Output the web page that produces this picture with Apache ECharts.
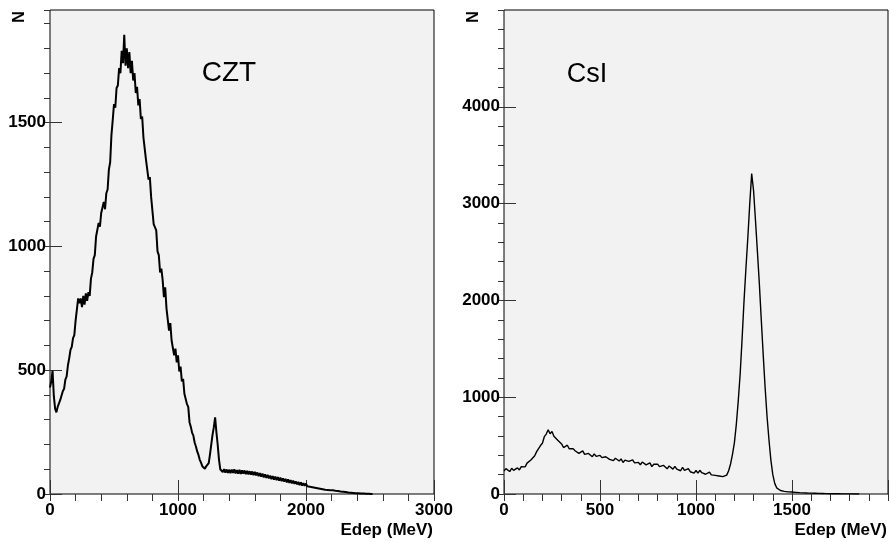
<!DOCTYPE html>
<html>
<head>
<meta charset="utf-8">
<script src="https://cdn.jsdelivr.net/npm/echarts@6/dist/echarts.min.js"></script>
<style>
html,body{margin:0;padding:0;background:#fff;}
#chart{width:889px;height:542px;}
</style>
</head>
<body>
<div id="chart"></div>
<script>
// ---- Data (energy bins, MeV) ----
const cztStep = 10;   // bin width (MeV) of CZT spectrum, first bin at 0
const csiStep = 10;   // bin width (MeV) of CsI spectrum, first bin at 0

const cztCounts = [
 430,455,498,395,345,330,352,350,380,385,
 415,425,462,475,520,548,582,594,630,642,
 700,705,790,770,790,755,800,765,810,780,
 815,800,870,895,950,965,1040,1035,1095,1080,
 1135,1130,1180,1150,1215,1230,1310,1340,1450,1510,
 1575,1560,1640,1650,1720,1700,1790,1740,1855,1730,
 1800,1720,1785,1700,1750,1670,1700,1620,1645,1570,
 1595,1515,1525,1440,1445,1350,1355,1270,1280,1200,
 1205,1090,1095,1065,980,965,895,910,865,795,
 835,750,755,660,690,620,625,560,587,532,
 560,495,515,455,465,405,412,363,352,290,
 272,248,236,208,192,172,158,138,127,112,
 108,102,112,106,125,160,200,240,270,310,
 250,200,140,100,102,88,101,86,99,85,
 98,84,99,85,100,83,97,82,98,81,
 96,82,95,80,94,79,92,78,91,76,
 89,75,87,72,84,70,82,67,79,65,
 77,63,74,60,72,58,70,56,68,54,
 66,52,63,50,61,47,59,45,56,43,
 54,41,51,39,49,36,47,34,44,33,
 42,31,39,29,36,27,33,25,30,23,
 27,21,25,19,23,17,21,16,19,15,
 17,15,15,13,13,12,11,10,10,9,
 8,8,7,6,6,5,5,4,4,3,
 3,3,2,2,2,2,1,1,1,1,
 1,0,0
];

const csiCounts = [
 238,262,250,232,266,244,256,270,249,283,
 288,280,319,316,352,347,395,438,446,501,
 525,592,619,664,622,645,597,600,555,560,
 517,480,495,504,467,448,469,447,459,420,
 427,445,409,393,419,411,385,415,389,377,
 399,376,359,385,395,358,369,345,369,373,
 341,363,325,350,360,337,322,353,321,335,
 327,302,330,335,301,306,322,283,307,293,
 309,282,272,296,285,260,290,280,257,285,
 256,273,240,276,243,254,261,230,247,216,
 243,216,245,220,231,204,218,226,198,210,
 192,208,186,197,180,177,195,240,310,410,
 530,720,960,1240,1600,1990,2330,2650,3000,3310,
 3130,2820,2500,2170,1800,1440,1100,800,560,350,
 200,110,64,45,36,30,27,24,22,20,
 20,18,17,16,14,13,12,11,10,10,
 9,8,8,7,6,6,5,5,4,4,
 3,3,3,2,2,2,1,1,1,1,
 1,0,0,0,0,0
];

// Axis tick values
const cztXTicks = [0, 1000, 2000, 3000];
const cztYTicks = [0, 500, 1000, 1500];
const csiXTicks = [0, 500, 1000, 1500];
const csiYTicks = [0, 1000, 2000, 3000, 4000];

const panelLabels = ['CZT', 'CsI'];
const xTitle = 'Edep (MeV)';
const yTitle = 'N';

// ---- Build chart ----
const FONT = '"Liberation Sans", Arial, Helvetica, sans-serif';
const toPairs = (arr, step) => arr.map((v, i) => [i * step, v]);

function mainX(gi, max, interval, ticks) {
  return {
    gridIndex: gi, type: 'value', min: 0, max: max, interval: interval,
    axisLine: {show: false},
    axisTick: {show: true, inside: true, length: 14, lineStyle: {color: '#333', width: 1}},
    axisLabel: {
      show: true, margin: 8, color: '#000', fontFamily: FONT, fontWeight: 'bold', fontSize: 17,
      formatter: v => (ticks.indexOf(v) >= 0 ? String(v) : '')
    },
    splitLine: {show: false},
    name: xTitle, nameLocation: 'end', nameGap: -1,
    nameTextStyle: {color: '#000', fontFamily: FONT, fontWeight: 'bold', fontSize: 17,
      align: 'right', verticalAlign: 'top', padding: [28, 0, 0, 0]}
  };
}
function minorX(gi, max, interval) {
  return {
    gridIndex: gi, type: 'value', min: 0, max: max, interval: interval,
    axisLine: {show: false},
    axisTick: {show: true, inside: true, length: 7, lineStyle: {color: '#333', width: 1}},
    axisLabel: {show: false}, splitLine: {show: false}
  };
}
function mainY(gi, max, interval, ticks) {
  return {
    gridIndex: gi, type: 'value', min: 0, max: max, interval: interval,
    axisLine: {show: false},
    axisTick: {show: true, inside: true, length: 12, lineStyle: {color: '#333', width: 1}},
    axisLabel: {
      show: true, margin: 4, color: '#000', fontFamily: FONT, fontWeight: 'bold', fontSize: 17,
      showMaxLabel: false,
      formatter: v => (ticks.indexOf(v) >= 0 ? String(v) : '')
    },
    splitLine: {show: false}
  };
}
function minorY(gi, max, interval) {
  return {
    gridIndex: gi, type: 'value', min: 0, max: max, interval: interval,
    axisLine: {show: false},
    axisTick: {show: true, inside: true, length: 6, lineStyle: {color: '#333', width: 1}},
    axisLabel: {show: false}, splitLine: {show: false}
  };
}

const chart = echarts.init(document.getElementById('chart'), null, {renderer: 'canvas'});
chart.setOption({
  animation: false,
  backgroundColor: '#ffffff',
  grid: [
    {left: 50, top: 10, width: 384, height: 484, show: true, backgroundColor: '#f2f2f2',
     borderColor: '#000', borderWidth: 1, containLabel: false, outerBoundsMode: 'none'},
    {left: 504, top: 10, width: 384, height: 484, show: true, backgroundColor: '#f2f2f2',
     borderColor: '#000', borderWidth: 1, containLabel: false, outerBoundsMode: 'none'}
  ],
  xAxis: [
    mainX(0, 3000, 1000, cztXTicks),
    minorX(0, 3000, 200),
    mainX(1, 2000, 500, csiXTicks),
    minorX(1, 2000, 100)
  ],
  yAxis: [
    mainY(0, 1955, 500, cztYTicks),
    minorY(0, 1955, 100),
    mainY(1, 5000, 1000, csiYTicks),
    minorY(1, 5000, 200)
  ],
  series: [
    {type: 'line', name: 'CZT', xAxisIndex: 0, yAxisIndex: 0, data: toPairs(cztCounts, cztStep),
     showSymbol: false, symbol: 'none', lineStyle: {color: '#000', width: 2}, clip: true},
    {type: 'line', name: 'CsI', xAxisIndex: 2, yAxisIndex: 2, data: toPairs(csiCounts, csiStep),
     showSymbol: false, symbol: 'none', lineStyle: {color: '#000', width: 1.4}, clip: true}
  ],
  graphic: [
    {type: 'text', x: 20, y: 17, rotation: Math.PI / 2,
     style: {text: yTitle, font: 'bold 16px ' + FONT, fill: '#000', textAlign: 'center', textVerticalAlign: 'middle'}},
    {type: 'text', x: 474, y: 17, rotation: Math.PI / 2,
     style: {text: yTitle, font: 'bold 16px ' + FONT, fill: '#000', textAlign: 'center', textVerticalAlign: 'middle'}},
    {type: 'text', x: 229, y: 73,
     style: {text: panelLabels[0], font: '28px ' + FONT, fill: '#000', textAlign: 'center', textVerticalAlign: 'middle'}},
    {type: 'text', x: 587, y: 75,
     style: {text: panelLabels[1], font: '27px ' + FONT, fill: '#000', textAlign: 'center', textVerticalAlign: 'middle'}}
  ]
});
</script>
</body>
</html>
